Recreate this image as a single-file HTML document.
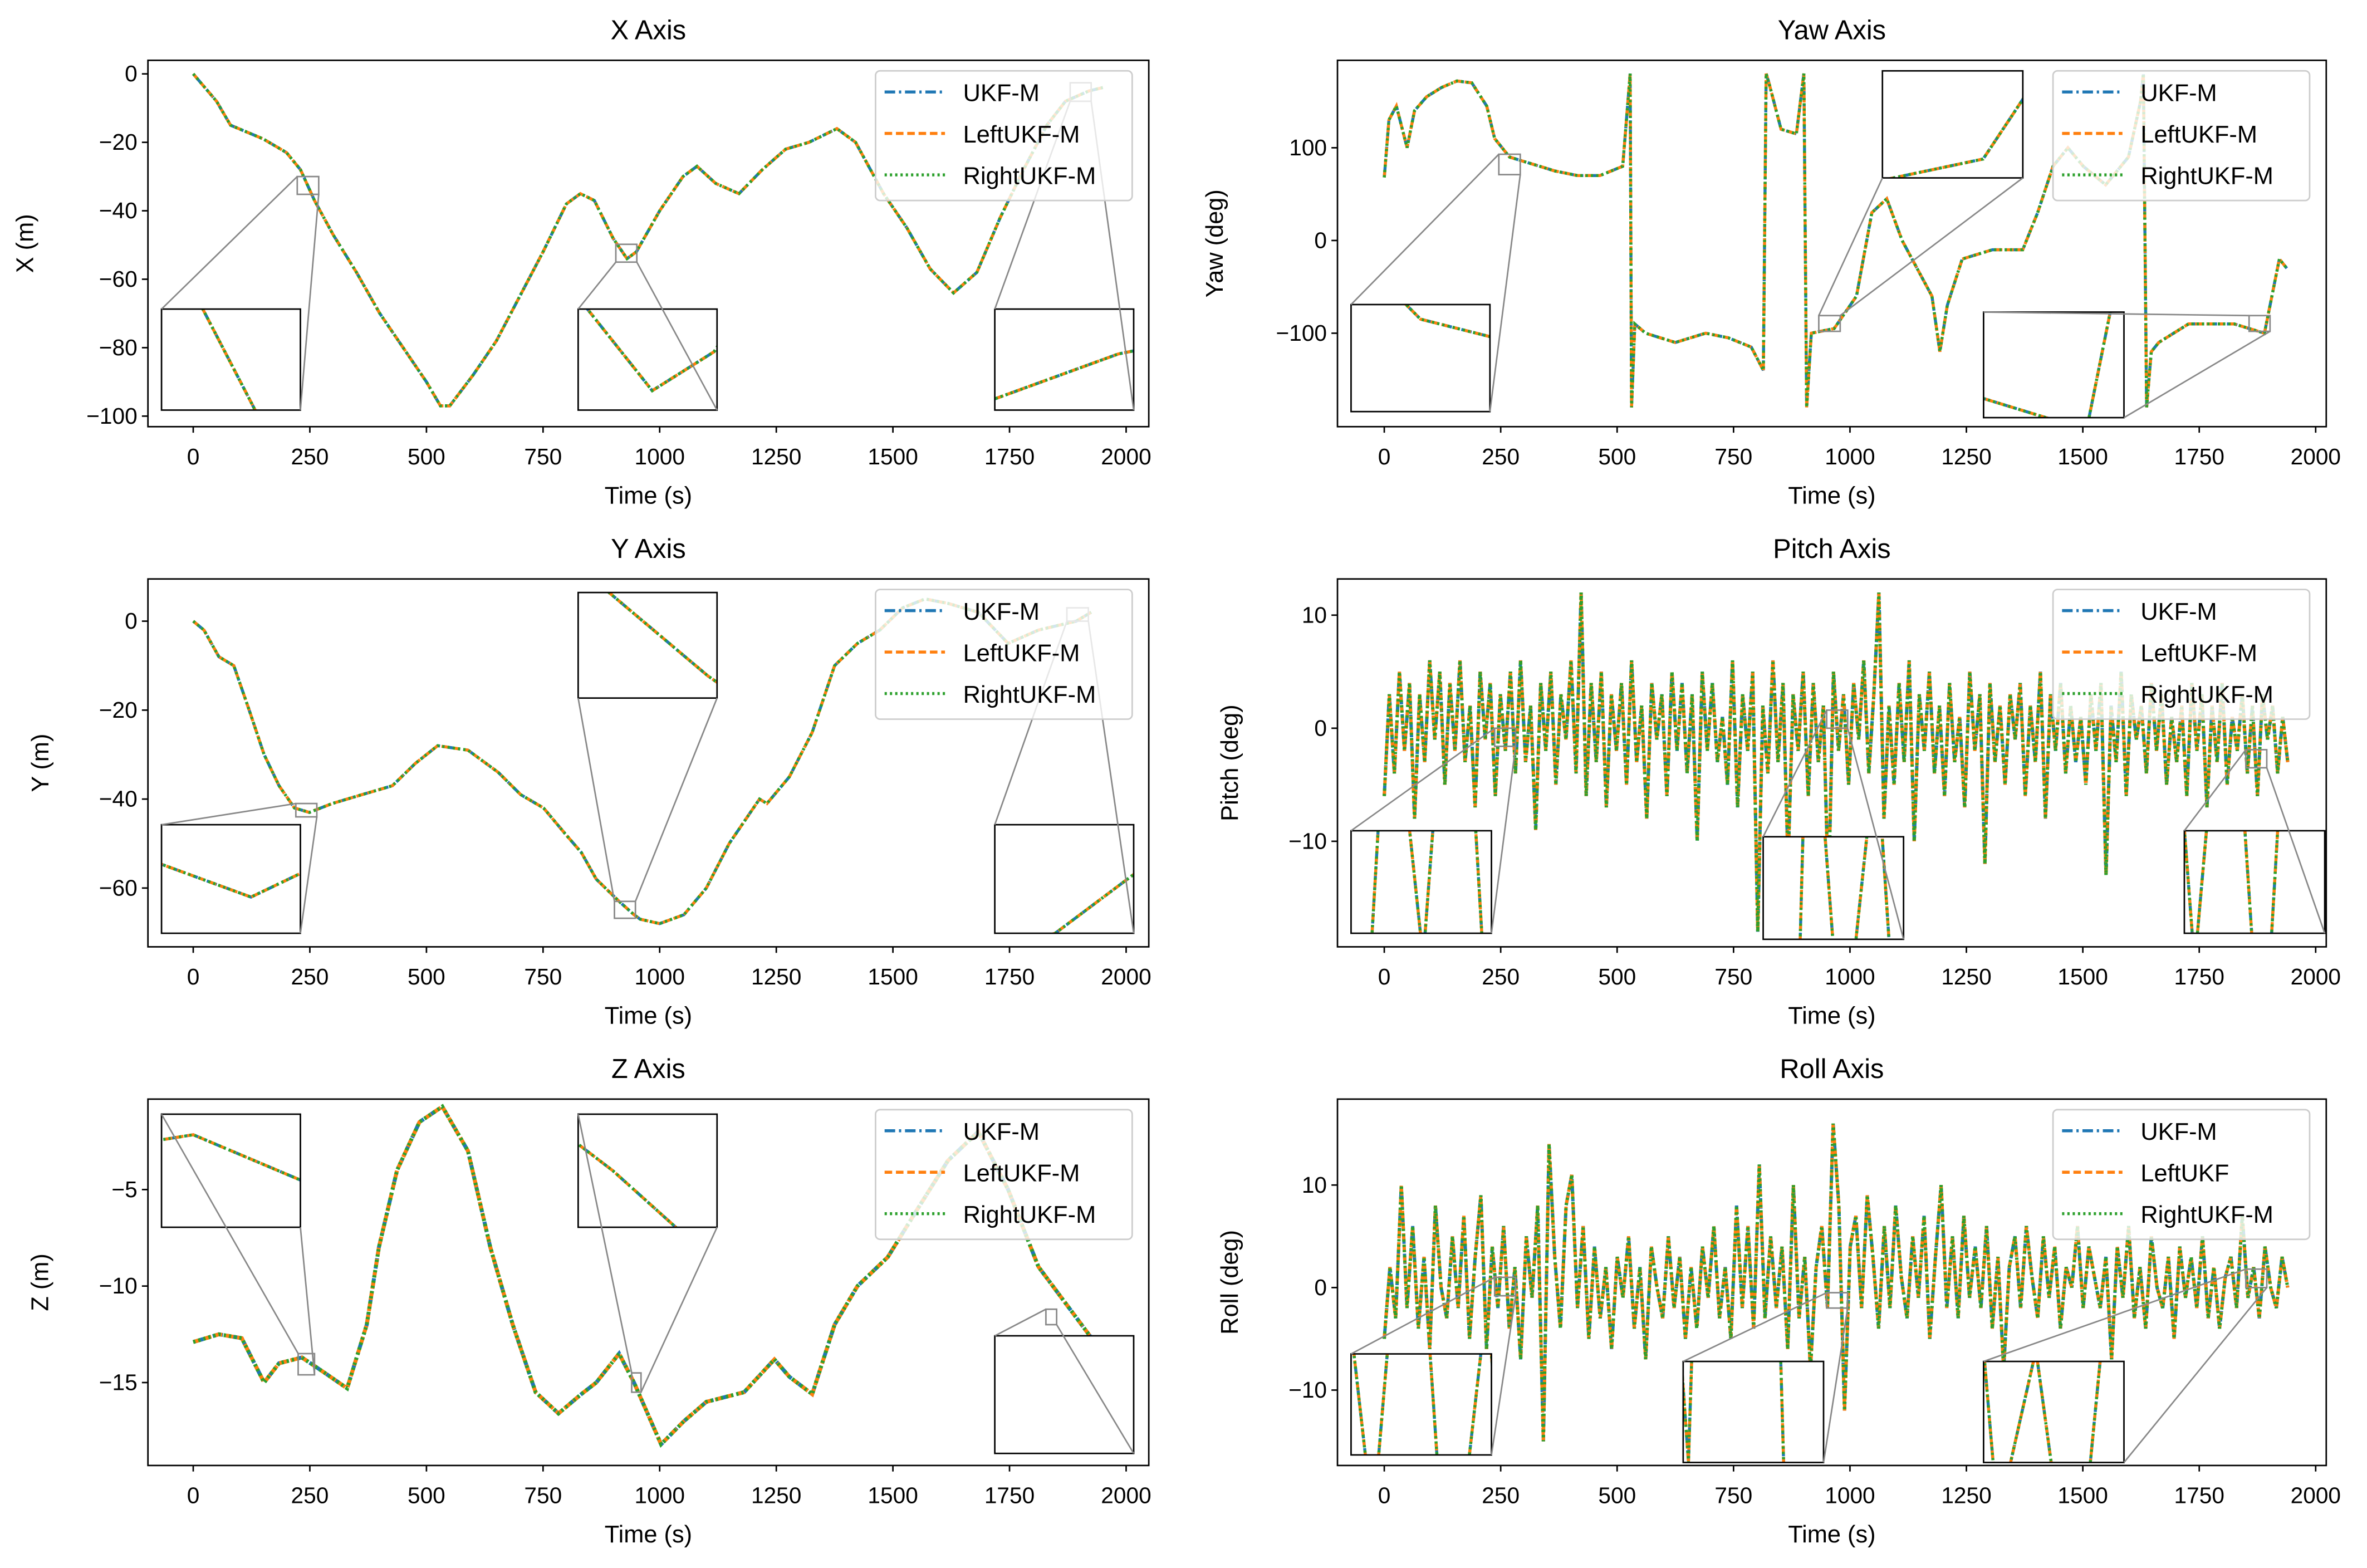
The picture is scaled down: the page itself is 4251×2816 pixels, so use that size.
<!DOCTYPE html>
<html><head><meta charset="utf-8">
<style>
html,body{margin:0;padding:0;background:#fff;width:4251px;height:2816px;overflow:hidden;}
svg{display:block;}
text{font-family:"Liberation Sans","DejaVu Sans",sans-serif;fill:#000;}
</style></head>
<body>
<svg id="chart" xmlns="http://www.w3.org/2000/svg" width="4251" height="2816" viewBox="0 0 1568 1040" preserveAspectRatio="none"></svg>
<script>
// ---------- data ----------
const xTimes = [0,50,80,150,200,230,260,300,350,400,450,500,530,550,600,650,700,750,800,830,860,900,930,950,1000,1050,1080,1120,1170,1220,1270,1320,1380,1420,1480,1530,1580,1630,1680,1730,1780,1830,1870,1920,1950];
const xValues = [0,-8,-15,-19,-23,-28,-37,-47,-58,-70,-80,-90,-97,-97,-88,-78,-65,-52,-38,-35,-37,-48,-54,-52,-40,-30,-27,-32,-35,-28,-22,-20,-16,-20,-35,-45,-57,-64,-58,-42,-28,-15,-8,-5,-4];

const yawTimes = [0,10,26,49,65,91,123,156,188,220,237,269,301,334,366,415,463,512,528,531,538,561,625,690,739,788,814,820,826,852,885,901,907,917,966,1014,1047,1079,1112,1144,1176,1193,1209,1241,1306,1371,1403,1436,1468,1501,1549,1598,1624,1630,1637,1647,1663,1727,1825,1890,1922,1938];
const yawValues = [68,130,145,100,140,155,165,172,170,145,110,90,85,80,75,70,70,80,180,-180,-90,-100,-110,-100,-105,-115,-140,180,170,120,115,180,-180,-100,-95,-60,30,45,0,-30,-60,-120,-70,-20,-10,-10,30,80,100,80,60,90,150,180,-180,-120,-110,-90,-90,-100,-20,-30];

const yTimes = [0,23,55,87,120,152,184,217,249,298,362,427,476,524,589,654,702,751,799,832,864,913,945,958,1000,1052,1100,1149,1214,1230,1278,1327,1375,1424,1472,1521,1569,1618,1683,1747,1812,1893,1925];
const yValues = [0,-2,-8,-10,-20,-30,-37,-42,-43,-41,-39,-37,-32,-28,-29,-34,-39,-42,-48,-52,-58,-63,-66,-67,-68,-66,-60,-50,-40,-41,-35,-25,-10,-5,-2,3,5,4,2,-5,-2,0,2];

const pitchValues = [-6,3,-4,5,-2,4,-8,3,-3,6,-1,5,-5,4,-2,6,-3,2,-7,5,
-1,4,-6,3,-2,5,-4,6,-3,2,-9,4,-2,5,-5,3,-1,6,-4,12,
-6,4,-3,5,-7,3,-2,4,-5,6,-3,2,-8,4,-1,3,-6,5,-2,4,
-4,3,-10,5,-2,4,-3,1,-5,6,-7,3,-2,5,-18,2,-4,6,-3,4,
-12,3,-2,5,-6,4,-3,2,-15,5,-2,3,-5,4,-1,6,-4,3,12,-8,
2,-5,4,-3,6,-10,3,-2,5,-4,2,-6,4,-3,1,-7,5,-2,3,-12,
4,-3,2,-5,3,-1,4,-6,2,-3,5,-8,3,-2,4,-4,2,-3,1,-5,
3,-2,4,-13,2,-3,5,-6,3,-1,2,-4,4,-2,3,-5,1,-3,2,-6,
4,-2,3,-7,2,-3,4,-5,1,-2,3,-4,2,-6,3,-1,2,-4,1,-3];
const rollValues = [-5,2,-3,10,-2,6,-4,3,-6,8,0,-3,5,-2,7,-5,3,9,-6,4,
-2,6,-4,2,-7,5,-1,8,-15,14,3,-4,8,11,-2,6,-5,4,-3,2,
-6,3,-1,5,-4,2,-7,4,0,-3,5,-2,3,-5,2,-4,4,-1,6,-3,
2,-5,8,-2,6,-4,12,-3,5,-2,4,-6,10,-3,3,-8,2,6,-2,16,
8,-12,4,7,-2,9,3,-4,6,-2,8,1,-3,5,-1,7,-5,3,10,-2,
5,-3,7,-1,4,-2,6,-4,3,-8,2,5,-2,6,1,-3,5,-1,4,-4,
2,0,6,-2,4,1,-2,3,-7,4,-1,6,-3,2,-4,5,0,-2,3,-5,
4,-1,3,-2,5,-3,2,-4,1,3,-2,7,-1,2,-3,4,0,-2,3,0];
const noisyEnd = 1940;

const zTimes = [0,55,104,152,184,233,282,330,372,398,437,485,534,589,637,685,734,783,832,864,913,945,1003,1052,1100,1181,1246,1278,1327,1375,1424,1489,1553,1618,1683,1747,1812,1966];
const zValues = [-12.9,-12.5,-12.7,-15,-14,-13.7,-14.5,-15.3,-12,-8,-4,-1.5,-0.7,-3,-8,-12,-15.5,-16.6,-15.6,-15,-13.5,-15,-18.2,-17,-16,-15.5,-13.8,-14.7,-15.6,-12,-10,-8.5,-6,-3.5,-2,-5,-9,-14];

const xTicks = [0,250,500,750,1000,1250,1500,1750,2000];
const legendLabels = ["UKF-M","LeftUKF-M","RightUKF-M"];
const legendLabelsRoll = ["UKF-M","LeftUKF","RightUKF-M"];

function idxTimes(n){const a=[];for(let i=0;i<n;i++)a.push(i*noisyEnd/(n-1));return a;}

// ---------- helpers ----------
const NS="http://www.w3.org/2000/svg";
const svg=document.getElementById('chart');
function mk(tag,attrs,parent){const e=document.createElementNS(NS,tag);for(const k in attrs)e.setAttribute(k,attrs[k]);(parent||svg).appendChild(e);return e;}
const colors=["#1f77b4","#ff7f0e","#2ca02c"];
const dashes=["7,2.5,1.5,2.5","5,2.5","1.5,2"];
let clipId=0;

function panel(cfg){
  const g=mk('g',{});
  
  
  const [L,T,R,B]=cfg.box;
  const sw=cfg.sw||2;
  const sx=t=>cfg.xa+(t)*cfg.xk;
  const sy=v=>cfg.ya+(v-cfg.va)*(cfg.yb-cfg.ya)/(cfg.vb-cfg.va);
  const cid='c'+(clipId++);
  const cp=mk('clipPath',{id:cid},g);mk('rect',{x:L,y:T,width:R-L,height:B-T},cp);
  const sg=mk('g',{'clip-path':'url(#'+cid+')'},g);
  for(let s=0;s<3;s++){
    const pts=cfg.t.map((t,i)=>sx(t).toFixed(2)+','+sy(cfg.v[i]).toFixed(2)).join(' ');
    const pl=mk('polyline',{points:pts,fill:'none',stroke:colors[s],'stroke-width':sw,'stroke-dasharray':dashes[s]},sg);
    
    
  }
  const fr=mk('rect',{x:L,y:T,width:R-L,height:B-T,fill:'none',stroke:'#000','stroke-width':1},g);
  
  
  xTicks.forEach(tv=>{const x=sx(tv);mk('line',{x1:x,y1:B,x2:x,y2:B+4,stroke:'#000'},g);
    const tx=mk('text',{x:x,y:B+25,'text-anchor':'middle','font-size':15},g);tx.textContent=tv;
    
    });
  cfg.yticks.forEach(tv=>{const y=sy(tv);mk('line',{x1:L-4,y1:y,x2:L,y2:y,stroke:'#000'},g);
    const tx=mk('text',{x:L-7,y:y+5,'text-anchor':'end','font-size':15},g);tx.textContent=(tv<0?'\u2212'+(-tv):tv);
    
    });
  const ti=mk('text',{x:(L+R)/2,y:T-14,'text-anchor':'middle','font-size':18},g);ti.textContent=cfg.title;
  
  
  const xl=mk('text',{x:(L+R)/2,y:B+51,'text-anchor':'middle','font-size':16},g);xl.textContent='Time (s)';
  
  
  const yl=mk('text',{x:cfg.ylx,y:(T+B)/2,'text-anchor':'middle','font-size':16,transform:'rotate(-90 '+cfg.ylx+' '+(T+B)/2+')'},g);yl.textContent=cfg.ylabel;
  
  
  cfg.insets.forEach((ins,k)=>{
    const [t0,t1,v0,v1]=ins.win;const [ix,iy,iw,ih]=ins.box;
    const rx0=sx(t0),rx1=sx(t1),ry0=sy(v1),ry1=sy(v0);
    const rc={TL:[rx0,ry0],TR:[rx1,ry0],BL:[rx0,ry1],BR:[rx1,ry1]};
    const ic={TL:[ix,iy],TR:[ix+iw,iy],BL:[ix,iy+ih],BR:[ix+iw,iy+ih]};
    const zr=mk('rect',{x:rx0,y:ry0,width:rx1-rx0,height:ry1-ry0,fill:'none',stroke:'#888','stroke-width':1},g);
    
    
    const ib=mk('g',{},g);
    
    
    mk('rect',{x:ix,y:iy,width:iw,height:ih,fill:'#fff'},ib);
    const icid='c'+(clipId++);
    const icp=mk('clipPath',{id:icid},ib);mk('rect',{x:ix,y:iy,width:iw,height:ih},icp);
    const isg=mk('g',{'clip-path':'url(#'+icid+')'},ib);
    const isx=t=>ix+(t-t0)/(t1-t0)*iw, isy=v=>iy+(v1-v)/(v1-v0)*ih;
    for(let s=0;s<3;s++){
      const pts=cfg.t.map((t,i)=>isx(t).toFixed(2)+','+isy(cfg.v[i]).toFixed(2)).join(' ');
      mk('polyline',{points:pts,fill:'none',stroke:colors[s],'stroke-width':2,'stroke-dasharray':dashes[s]},isg);
    }
    mk('rect',{x:ix,y:iy,width:iw,height:ih,fill:'none',stroke:'#000','stroke-width':1},ib);
    ins.links.forEach(([a,b])=>{mk('line',{x1:ic[a][0],y1:ic[a][1],x2:rc[b][0],y2:rc[b][1],stroke:'#888','stroke-width':1},g);});
  });
  const lg=mk('g',{},g);
  
  
  const lx=R-181,ly=T+7;
  mk('rect',{x:lx,y:ly,width:170,height:86,rx:3,fill:'#fff','fill-opacity':0.8,stroke:'#ccc'},lg);
  const labs=cfg.labels||legendLabels;
  labs.forEach((lab,i)=>{const y=ly+14+i*27.5;
    const ln=mk('line',{x1:lx+6,y1:y,x2:lx+46,y2:y,stroke:colors[i],'stroke-width':2,'stroke-dasharray':dashes[i]},lg);
    
    
    const tx=mk('text',{x:lx+58,y:y+6,'font-size':16},lg);tx.textContent=lab;
    
    });
}

const LX={xa:128,xk:0.309}, RX={xa:917,xk:0.3085};
panel(Object.assign({name:'x-axis',title:'X Axis',ylabel:'X (m)',ylx:22,box:[98,40,761,283],t:xTimes,v:xValues,va:0,ya:49,vb:-100,yb:276,yticks:[0,-20,-40,-60,-80,-100],
 insets:[{win:[223,269,-35.2,-30],box:[107,205,92,67],links:[['TL','TL'],['BR','BR']]},
         {win:[906,951,-55,-49.8],box:[383,205,92,67],links:[['TL','BL'],['BR','BR']]},
         {win:[1880,1925,-8,-2.6],box:[659,205,92,67],links:[['TL','BL'],['BR','BR']]}]},LX));
panel(Object.assign({name:'yaw-axis',title:'Yaw Axis',ylabel:'Yaw (deg)',ylx:810,box:[886,40,1541,283],t:yawTimes,v:yawValues,va:100,ya:98,vb:-100,yb:221,yticks:[100,0,-100],
 insets:[{win:[246,292,71,93],box:[895,202,92,71],links:[['TL','TL'],['BR','BR']]},
         {win:[933,979,-98,-81],box:[1247,47,93,71],links:[['BL','TL'],['BR','TR']]},
         {win:[1857,1902,-98,-81],box:[1314,207,93,70],links:[['TL','TL'],['BR','BR']]}]},RX));
panel(Object.assign({name:'y-axis',title:'Y Axis',ylabel:'Y (m)',ylx:32,box:[98,384,761,628],t:yTimes,v:yValues,va:0,ya:412,vb:-60,yb:589,yticks:[0,-20,-40,-60],
 insets:[{win:[220,265,-44,-41],box:[107,547,92,72],links:[['TL','TL'],['BR','BR']]},
         {win:[903,948,-66.8,-63],box:[383,393,92,70],links:[['BL','TL'],['BR','TR']]},
         {win:[1873,1919,0,3],box:[659,547,92,72],links:[['TL','BL'],['BR','BR']]}]},LX));
panel(Object.assign({name:'pitch-axis',title:'Pitch Axis',ylabel:'Pitch (deg)',ylx:820,box:[886,384,1541,628],t:idxTimes(pitchValues.length),v:pitchValues,va:10,ya:408,vb:-10,yb:558,yticks:[10,0,-10],sw:2.2,
 insets:[{win:[237,282,-1.6,0],box:[895,551,93,68],links:[['TL','TL'],['BR','BR']]},
         {win:[950,995,0,1.6],box:[1168,555,93,68],links:[['TL','TL'],['BR','BR']]},
         {win:[1850,1895,-3.5,-1.9],box:[1447,551,93,68],links:[['TL','TL'],['BR','BR']]}]},RX));
panel(Object.assign({name:'z-axis',title:'Z Axis',ylabel:'Z (m)',ylx:32,box:[98,729,761,972],t:zTimes,v:zValues,va:-5,ya:789,vb:-10,yb:853,yticks:[-5,-10,-15],sw:2.6,
 insets:[{win:[225,260,-14.6,-13.5],box:[107,739,92,75],links:[['TL','TL'],['BR','BR']]},
         {win:[940,960,-15.5,-14.5],box:[383,739,92,75],links:[['TL','TL'],['BR','BR']]},
         {win:[1828,1851,-12,-11.2],box:[659,886,92,78],links:[['TL','TL'],['BR','BR']]}]},LX));
panel(Object.assign({name:'roll-axis',title:'Roll Axis',ylabel:'Roll (deg)',ylx:820,box:[886,729,1541,972],t:idxTimes(rollValues.length),v:rollValues,va:10,ya:786,vb:-10,yb:922,yticks:[10,0,-10],labels:legendLabelsRoll,sw:2.2,
 insets:[{win:[237,282,-0.8,1],box:[895,898,93,67],links:[['TL','TL'],['BR','BR']]},
         {win:[950,995,-2,-0.5],box:[1115,903,93,67],links:[['TL','TL'],['BR','BR']]},
         {win:[1850,1895,0,1.8],box:[1314,903,93,67],links:[['TL','TL'],['BR','BR']]}]},RX));
</script>
</body></html>
